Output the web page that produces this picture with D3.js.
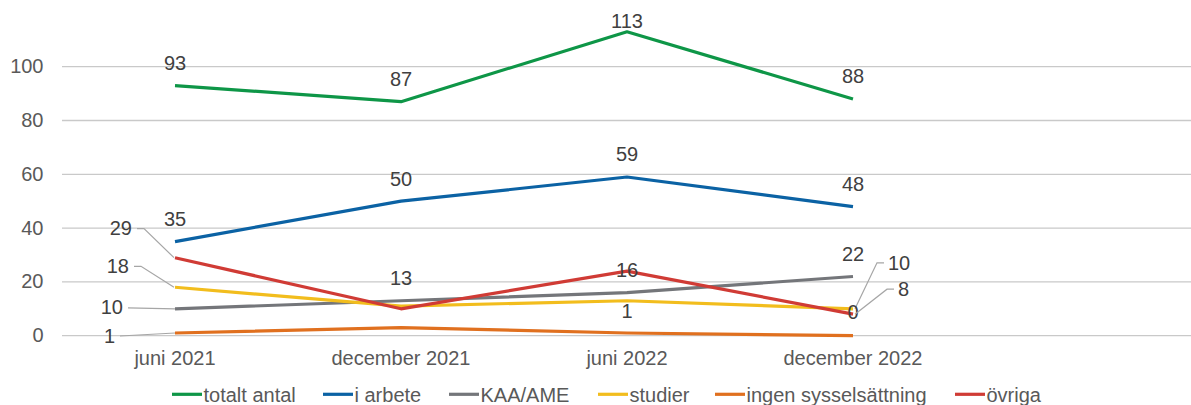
<!DOCTYPE html>
<html>
<head>
<meta charset="utf-8">
<script src="https://cdn.jsdelivr.net/npm/d3@7"></script>
<style>
  html, body { margin: 0; padding: 0; background: #fff; }
  svg { display: block; font-family: "Liberation Sans", Arial, sans-serif; }
</style>
</head>
<body>
<svg id="chart" width="1191" height="405"></svg>
<script>
// ---- data ----
const categories = ["juni 2021", "december 2021", "juni 2022", "december 2022"];
const yTicks = [0, 20, 40, 60, 80, 100];
const seriesNames = ["totalt antal", "i arbete", "KAA/AME", "studier", "ingen sysselsättning", "övriga"];
const totaltAntal = [93, 87, 113, 88];
const iArbete = [35, 50, 59, 48];
const kaaAme = [10, 13, 16, 22];
const studier = [18, 11, 13, 10];
const ingenSyss = [1, 3, 1, 0];
const ovriga = [29, 10, 24, 8];
const seriesColors = ["#0E9647", "#0B62A4", "#74767A", "#F2BD1D", "#E0701F", "#D03B35"];

const seriesValues = [totaltAntal, iArbete, kaaAme, studier, ingenSyss, ovriga];

// which points carry a data label and how it is placed
// "a" = above the point, "L"/"R" = off to the side with leader line
const labelModes = [
  ["a", "a", "a2", "a"],
  ["a", "a", "a", "a"],
  ["L", "a", "a", "a"],
  ["L", null, null, "R"],
  ["L", null, "a", "a0"],
  ["L", null, null, "R"]
];

// ---- layout ----
const svg = d3.select("#chart");
const x = d3.scaleBand().domain(categories).range([62, 966]);
const y = d3.scaleLinear().domain([0, 120]).range([335.7, 12.9]);
const cx = c => x(c) + x.bandwidth() / 2;
const gridRight = 1191;

// gridlines
svg.append("g").selectAll("line").data(yTicks).join("line")
  .attr("x1", 62).attr("x2", gridRight)
  .attr("y1", d => y(d)).attr("y2", d => y(d))
  .attr("stroke", "#C9C9C9").attr("stroke-width", 1.3);

// y axis labels
svg.append("g").selectAll("text").data(yTicks).join("text")
  .attr("x", 43.5).attr("y", d => y(d) + 6.5)
  .attr("text-anchor", "end")
  .attr("font-size", 20).attr("fill", "#595959")
  .text(d => d);

// x axis labels
svg.append("g").selectAll("text").data(categories).join("text")
  .attr("x", d => cx(d)).attr("y", 365)
  .attr("text-anchor", "middle")
  .attr("font-size", 20).attr("fill", "#595959")
  .text(d => d);

// lines
const line = d3.line().x((d, i) => cx(categories[i])).y(d => y(d));
svg.append("g").selectAll("path").data(seriesValues).join("path")
  .attr("d", d => line(d))
  .attr("fill", "none")
  .attr("stroke", (d, i) => seriesColors[i])
  .attr("stroke-width", 3.2)
  .attr("stroke-linejoin", "round");

// data labels
const lbl = svg.append("g").attr("font-size", 20).attr("fill", "#404040");
seriesValues.forEach((vals, s) => {
  vals.forEach((v, i) => {
    const mode = labelModes[s][i];
    if (!mode) return;
    const px = cx(categories[i]), py = y(v);
    if (mode === "a" || mode === "a0" || mode === "a2") {
      let dy = -15.5;
      if (mode === "a2") dy = -3.5;
      if (mode === "a0") dy = -16.5;
      lbl.append("text").attr("x", px).attr("y", py + dy)
        .attr("text-anchor", "middle").text(v);
    } else if (mode === "L") {
      // side label to the left with leader
      const ty = py - (s === 5 ? 29 : s === 3 ? 21 : s === 2 ? 1 : -3);
      const tx = px - (s === 5 ? 43 : s === 3 ? 46 : s === 2 ? 52 : 60);
      lbl.append("text").attr("x", tx).attr("y", ty + 6.5)
        .attr("text-anchor", "end").text(v);
      const pts = (s === 2 || s === 4)
        ? [[tx + 5, ty], [px, py]]
        : [[tx + 5, ty], [tx + 12, ty], [px - 1, py]];
      lbl.append("path").attr("d", d3.line()(pts))
        .attr("fill", "none").attr("stroke", "#A6A6A6").attr("stroke-width", 1.2);
    } else if (mode === "R") {
      const ty = py - (s === 3 ? 46 : 25);
      const tx = px + (s === 3 ? 35 : 45);
      lbl.append("text").attr("x", tx).attr("y", ty + 7)
        .attr("text-anchor", "start").text(v);
      const pts = [[tx - 4, ty], [tx - 11, ty], [px + 2, py]];
      lbl.append("path").attr("d", d3.line()(pts))
        .attr("fill", "none").attr("stroke", "#A6A6A6").attr("stroke-width", 1.2);
    }
  });
});

// legend
const legendX = [172, 323, 449, 598, 715, 955];
const leg = svg.append("g");
seriesNames.forEach((name, i) => {
  const g = leg.append("g").attr("transform", `translate(${legendX[i]},0)`);
  g.append("line").attr("x1", 0).attr("x2", 30).attr("y1", 394.3).attr("y2", 394.3)
    .attr("stroke", seriesColors[i]).attr("stroke-width", 3.2);
  g.append("text").attr("x", 31.5).attr("y", 401.5)
    .attr("font-size", 20).attr("fill", "#595959").text(name);
});
</script>
</body>
</html>
